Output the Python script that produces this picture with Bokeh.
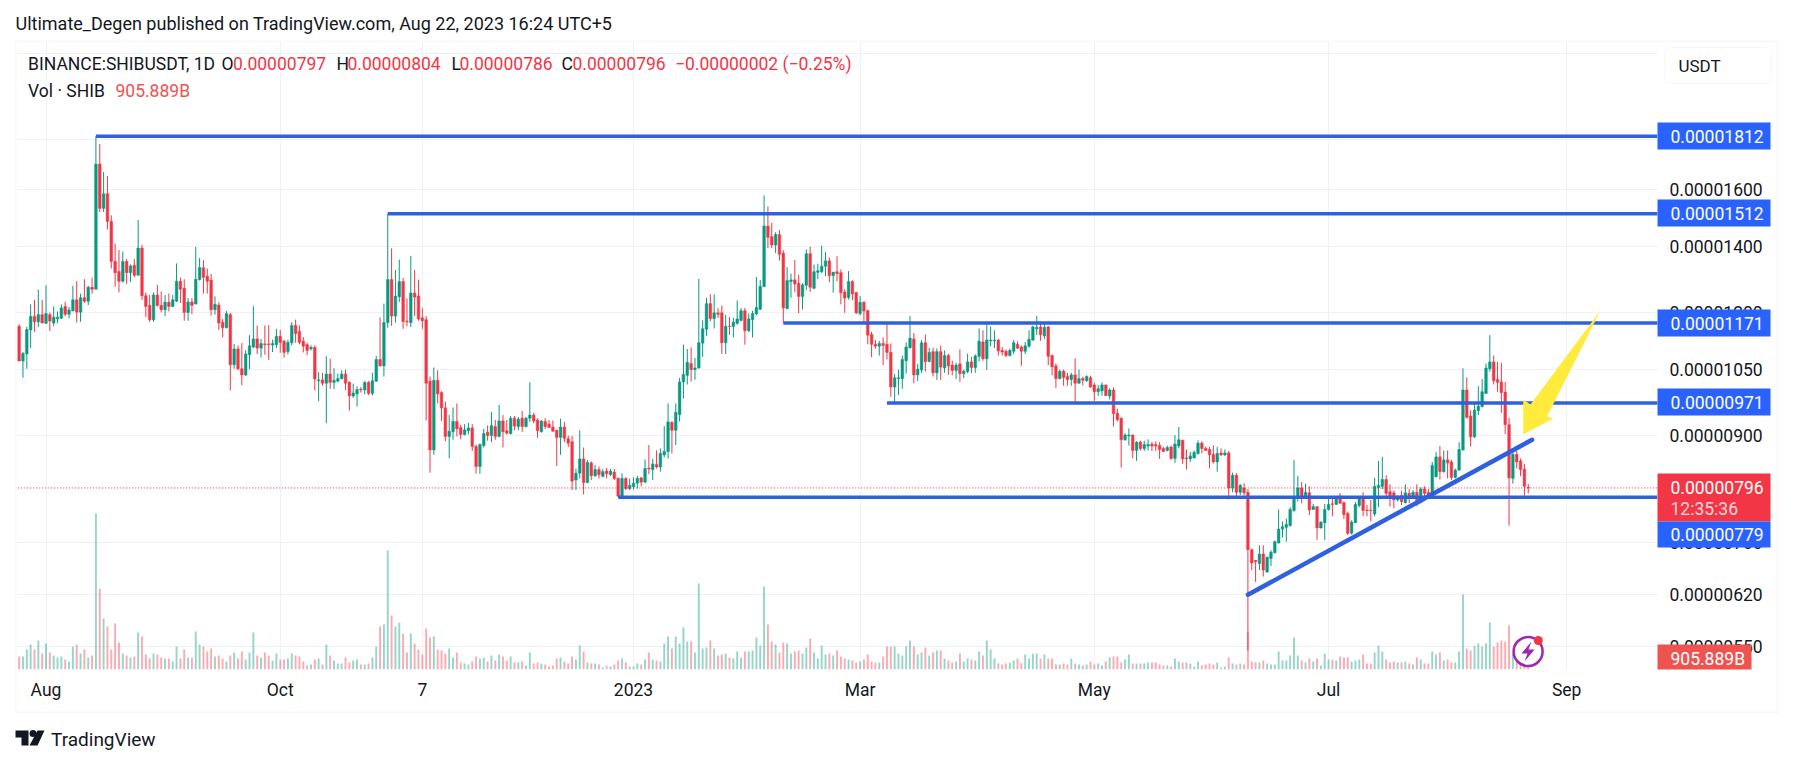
import math
from bokeh.embed import file_html
from bokeh.resources import INLINE
from bokeh.plotting import figure
from bokeh.models import (BoxAnnotation, Label, FixedTicker, Range1d, ColumnDataSource, LinearScale)

# Daily candles, prices in units of 0.00000001 USDT
opens = [
1162,1071,1089,1152,1189,1174,1194,1170,1194,1171,
1182,1184,1217,1195,1205,1236,1201,1242,1232,1273,
1267,1698,1531,1584,1485,1352,1321,1291,1352,1317,
1340,1309,1395,1248,1220,1180,1250,1220,1208,1229,
1217,1232,1291,1270,1200,1230,1224,1296,1332,1306,
1295,1208,1221,1173,1158,1194,1062,1102,1052,1037,
1087,1107,1128,1104,1115,1115,1112,1113,1135,1122,
1095,1118,1164,1148,1122,1113,1102,1106,1023,1025,
1017,1039,1019,1022,1028,1039,1019,987,992,1003,
1001,1019,993,1022,1075,1059,1172,1296,1190,1245,
1290,1176,1172,1256,1247,1185,1180,1022,870,1024,
995,960,898,908,930,917,902,910,916,877,
837,879,907,900,919,898,931,910,904,937,
919,937,919,937,944,933,908,930,924,918,
911,896,918,893,887,811,824,852,806,844,
819,831,818,828,821,826,814,781,814,795,
798,805,815,807,834,831,841,836,860,867,
928,911,945,1020,1036,1065,1050,1054,1117,1154,
1225,1183,1199,1199,1118,1162,1161,1170,1178,1205,
1150,1180,1196,1209,1275,1469,1433,1405,1440,1379,
1211,1290,1295,1285,1246,1279,1377,1270,1318,1320,
1337,1354,1308,1320,1317,1259,1243,1290,1257,1197,
1229,1205,1140,1114,1109,1116,1114,1093,1008,1028,
1028,1072,1105,1128,1037,1049,1118,1070,1095,1042,
1095,1054,1085,1061,1048,1064,1040,1045,1069,1055,
1083,1120,1077,1123,1123,1125,1098,1096,1085,1096,
1114,1107,1096,1109,1125,1155,1160,1136,1160,1085,
1059,1028,1046,1033,1026,1037,1017,1028,1023,1030,
1013,997,999,1013,987,1001,948,937,891,899,
901,869,886,873,878,882,881,879,873,869,
876,853,878,890,854,852,854,863,884,873,
871,861,846,864,860,864,796,820,788,796,
788,689,672,667,682,654,675,684,700,723,
726,729,755,778,796,778,787,757,762,725,
734,757,767,766,781,769,750,716,734,764,
777,756,756,749,797,799,812,789,787,774,
782,769,786,777,788,769,794,788,781,817,
856,827,850,846,816,830,870,1001,942,897,
954,963,993,1052,1069,1026,1020,996,923,814,
861,848,832,797]
highs = [
1167,1094,1160,1223,1236,1266,1236,1279,1200,1217,
1203,1223,1231,1216,1277,1291,1254,1297,1277,1302,
1812,1780,1667,1651,1506,1410,1389,1384,1360,1343,
1360,1490,1406,1257,1250,1257,1280,1260,1250,1254,
1250,1346,1302,1297,1241,1241,1399,1363,1356,1330,
1313,1246,1229,1182,1204,1199,1115,1111,1117,1099,
1138,1218,1164,1128,1164,1165,1126,1155,1152,1126,
1126,1173,1180,1164,1133,1118,1111,1111,1043,1042,
1083,1077,1053,1040,1048,1050,1022,1016,1010,1008,
1022,1022,1042,1084,1186,1225,1512,1394,1325,1358,
1301,1240,1370,1325,1296,1212,1190,1033,1055,1048,
998,974,944,961,970,923,924,927,924,881,
883,914,921,951,933,967,944,933,942,942,
940,953,940,1019,949,937,933,937,933,932,
912,936,929,900,899,833,911,875,850,847,
840,837,832,834,832,832,816,824,816,814,
816,819,817,851,880,852,869,873,920,970,
930,970,1030,1113,1102,1106,1079,1298,1178,1242,
1252,1252,1212,1220,1194,1187,1185,1234,1213,1213,
1197,1205,1304,1295,1578,1538,1480,1448,1455,1388,
1334,1314,1357,1311,1285,1391,1400,1342,1345,1403,
1382,1365,1319,1369,1327,1267,1322,1294,1260,1247,
1232,1208,1147,1125,1123,1132,1173,1116,1039,1050,
1085,1119,1190,1144,1064,1125,1140,1105,1105,1103,
1111,1098,1089,1072,1067,1101,1050,1090,1082,1088,
1156,1151,1168,1161,1151,1128,1107,1100,1103,1125,
1122,1111,1120,1151,1164,1190,1173,1173,1163,1088,
1065,1050,1050,1042,1042,1078,1050,1033,1036,1035,
1018,1013,1019,1013,1005,1007,958,939,905,915,
902,888,889,889,892,886,888,886,876,879,
879,901,918,891,871,866,869,890,888,877,
876,879,876,873,871,868,825,824,803,805,
794,691,672,696,696,678,688,704,757,736,
741,761,850,819,807,804,799,767,762,736,
767,778,778,780,787,772,753,738,770,780,
788,765,774,815,848,856,820,803,791,783,
791,803,794,792,803,797,799,794,846,866,
878,869,869,850,833,886,1053,1031,955,970,
1010,1027,1065,1138,1085,1069,1067,1020,938,873,
869,853,842,804]
lows = [
1071,1030,1052,1104,1147,1160,1170,1168,1149,1162,
1170,1182,1189,1184,1203,1172,1174,1227,1221,1254,
1267,1518,1518,1457,1330,1274,1258,1287,1283,1289,
1303,1309,1236,1187,1174,1174,1217,1200,1190,1203,
1215,1230,1227,1177,1177,1195,1223,1293,1254,1254,
1191,1194,1152,1132,1156,1000,1052,1048,1012,1034,
1051,1104,1089,1080,1087,1074,1094,1104,1092,1080,
1088,1111,1118,1114,1093,1086,1098,1000,975,1011,
926,1004,1003,1019,1026,1001,954,983,963,995,
991,989,988,1020,1057,1033,1158,1163,1172,1230,
1155,1162,1160,1190,1177,1155,932,825,860,970,
931,888,853,891,898,892,900,902,868,823,
823,875,889,886,891,896,875,902,902,911,
911,908,917,929,926,895,906,914,916,908,
838,860,886,876,792,792,814,784,806,811,
817,814,816,814,819,811,779,779,792,792,
793,795,799,805,822,811,833,827,855,853,
863,880,930,981,1014,1021,1025,1052,1082,1136,
1176,1156,1185,1089,1089,1139,1132,1166,1175,1113,
1146,1132,1192,1207,1273,1395,1395,1379,1355,1171,
1209,1242,1259,1198,1208,1265,1259,1267,1297,1316,
1306,1288,1257,1291,1223,1199,1237,1235,1196,1192,
1173,1114,1081,1103,1085,1061,1075,985,971,989,
1004,1040,1103,1017,1022,1042,1045,1068,1033,1025,
1025,1042,1037,1036,1027,1020,1029,1041,1041,1042,
1070,1072,1049,1109,1104,1085,1085,1081,1083,1089,
1102,1059,1089,1105,1123,1139,1123,1128,1061,1036,
1006,1026,1011,1011,1011,971,1016,1012,1020,1006,
976,987,988,987,979,919,930,835,889,879,
853,848,869,868,869,868,868,852,866,867,
850,844,873,842,831,846,853,860,863,868,
833,843,827,858,858,775,788,778,783,782,
544,657,639,657,647,653,663,683,699,709,
702,727,753,771,768,777,747,756,705,724,
705,755,745,765,767,740,713,714,733,761,
745,745,736,745,761,794,778,762,759,771,
765,768,768,776,763,768,781,777,779,816,
812,825,814,811,814,829,869,936,877,895,
944,961,992,1045,1014,997,949,903,729,804,
833,818,782,786]
closes = [
1071,1090,1153,1189,1174,1194,1171,1197,1176,1187,
1187,1213,1195,1207,1236,1201,1242,1232,1273,1267,
1698,1531,1584,1485,1352,1317,1291,1352,1317,1338,
1309,1395,1248,1217,1180,1250,1220,1208,1229,1217,
1236,1291,1267,1200,1230,1220,1297,1333,1303,1291,
1208,1223,1171,1158,1197,1062,1102,1052,1037,1089,
1110,1128,1104,1116,1113,1113,1116,1135,1119,1093,
1119,1164,1142,1119,1109,1098,1106,1027,1025,1017,
1039,1019,1024,1028,1039,1017,987,994,1002,1001,
1019,993,1023,1075,1059,1172,1296,1190,1247,1290,
1175,1174,1256,1244,1182,1177,1017,870,1024,992,
960,898,909,930,914,902,912,916,877,837,
881,904,900,921,898,931,908,905,937,920,
935,919,937,944,931,910,931,919,917,909,
896,918,894,884,809,824,852,806,845,819,
831,821,827,823,828,814,781,814,795,801,
805,814,807,833,832,842,836,863,867,929,
911,950,1020,1038,1068,1050,1054,1118,1155,1225,
1183,1199,1195,1118,1162,1161,1173,1182,1205,1150,
1182,1197,1214,1276,1469,1431,1405,1440,1375,1213,
1293,1295,1283,1246,1280,1377,1273,1320,1323,1337,
1354,1308,1319,1314,1257,1241,1290,1253,1199,1229,
1204,1138,1114,1109,1116,1111,1093,1008,1030,1030,
1075,1107,1130,1037,1051,1118,1070,1093,1042,1095,
1056,1085,1059,1048,1061,1040,1046,1069,1055,1084,
1122,1077,1125,1125,1125,1097,1094,1085,1098,1118,
1104,1096,1110,1127,1160,1159,1139,1159,1083,1057,
1028,1046,1031,1026,1037,1017,1028,1024,1033,1008,
997,1004,1013,988,1001,947,934,891,901,901,
869,886,873,881,881,878,878,871,867,875,
853,882,891,852,852,858,865,884,873,869,
860,846,863,860,864,796,820,788,801,787,
689,668,670,682,657,677,685,702,723,727,
731,757,778,796,778,788,756,762,725,735,
757,766,766,777,768,748,716,735,766,776,
755,755,755,799,801,812,786,781,774,780,
771,787,777,788,766,794,786,778,839,856,
827,850,844,816,830,871,1001,939,897,955,
964,997,1054,1069,1023,1019,995,923,815,861,
846,831,799,796]
# Volume in units of 100B SHIB
volumes = [
39,39,60,75,60,87,48,78,51,42,
36,39,30,24,69,75,48,60,36,42,
467,243,153,129,60,138,81,48,42,36,
39,111,99,45,33,48,45,36,33,33,
24,69,33,60,36,36,114,75,69,54,
63,39,42,33,24,42,51,33,54,30,
51,111,42,36,51,42,27,48,30,30,
33,48,42,39,24,12,15,30,33,15,
75,42,27,18,18,36,21,27,30,15,
15,18,36,69,129,135,357,162,129,141,
108,51,108,78,60,45,123,96,99,60,
57,48,63,36,51,21,18,15,24,39,
33,36,24,42,27,45,39,27,39,21,
21,24,12,51,18,21,18,15,9,12,
33,36,24,18,39,30,72,54,21,18,
18,15,6,12,9,15,27,33,21,9,
9,18,15,30,51,30,27,24,78,99,
63,99,78,126,84,84,51,258,63,66,
87,63,42,45,48,36,33,54,36,54,
54,57,96,72,249,135,84,75,51,81,
78,48,54,57,48,66,93,51,33,72,
45,48,42,57,39,33,30,27,21,24,
30,45,24,21,21,39,69,69,69,48,
42,69,87,69,45,51,66,42,51,57,
57,33,27,21,24,48,24,33,30,27,
54,42,87,60,33,18,15,18,20,27,
33,19,45,33,48,48,33,45,33,33,
15,15,18,15,33,18,15,12,15,24,
15,18,12,24,37,39,39,21,30,45,
18,18,18,18,21,21,21,15,12,12,
9,33,24,21,21,18,9,24,12,15,
18,15,21,6,9,36,18,15,18,15,
113,24,21,21,27,18,15,15,54,27,
27,42,96,42,27,21,33,24,33,12,
48,30,30,27,39,36,36,24,27,30,
45,18,18,51,72,54,30,21,24,21,
21,24,18,15,36,30,18,18,54,45,
51,27,30,21,21,54,225,63,57,72,
78,69,78,141,69,81,87,84,132,47,
32,17,9,9.06]

first_day = -7   # days from 1 Aug 2022 of the first candle
date_ticks = [0, 61, 98, 153, 212, 273, 334, 396]
date_labels = ["Aug", "Oct", "7", "2023", "Mar", "May", "Jul", "Sep"]
price_ticks = [2200, 1800, 1600, 1400, 1200, 1050, 900, 700, 620, 550]
price_labels = ["", "", "0.00001600", "0.00001400", "0.00001200", "0.00001050", "0.00000900",
                "0.00000700", "0.00000620", "0.00000550"]
levels = [1812, 1512, 1171, 971, 779]
level_start_days = [13, 89, 192, 219, 149]
last_price = 796
trend_days = [313, 387]
trend_prices = [620, 891]

GREEN, RED, BLUE, LINE_BLUE = "#089981", "#f23645", "#2962ff", "#2f60de"
FONT = "Roboto"
W, H = 1785, 757

days = [first_day + i for i in range(len(closes))]
up = [c >= o for o, c in zip(opens, closes)]
colors = [GREEN if u else RED for u in up]

# plot rectangle on the page
L, R, T, B = 16, 1657, 42, 669
X_PER_DAY, X_AUG = 3.84, 45.5
Y_1600, Y_PER_LOG = 189, 427.5
def dx(px): return (px - X_AUG) / X_PER_DAY
def dy(py): return 1600 * math.exp((Y_1600 - py) / Y_PER_LOG)

p = figure(width=W, height=H, output_backend="svg", toolbar_location=None,
           y_axis_type="log", y_axis_location="right",
           x_range=Range1d(dx(L), dx(R)), y_range=Range1d(dy(B), dy(T)),
           min_border_left=L, min_border_right=W - R,
           min_border_top=T, min_border_bottom=H - B,
           background_fill_color="white", border_fill_color="white")
p.outline_line_color = None
p.extra_y_ranges = {"vol": Range1d(0, (B - T) * 3.0)}
p.extra_y_scales = {"vol": LinearScale()}

# axes
ax = p.yaxis[0]
ax.ticker = FixedTicker(ticks=price_ticks)
ax.major_label_overrides = dict(zip(price_ticks, price_labels))
ax.axis_line_color = None
ax.major_tick_line_color = None
ax.minor_tick_line_color = None
ax.major_label_text_font = FONT
ax.major_label_text_font_size = "17.5px"
ax.major_label_text_color = "#131722"
ax.major_label_standoff = 6
xa = p.xaxis[0]
xa.ticker = FixedTicker(ticks=date_ticks)
xa.major_label_overrides = dict(zip(date_ticks, date_labels))
xa.axis_line_color = None
xa.major_tick_line_color = None
xa.minor_tick_line_color = None
xa.major_label_text_font = FONT
xa.major_label_text_font_size = "17.5px"
xa.major_label_text_color = "#131722"
xa.major_label_standoff = 4
p.xgrid.ticker = FixedTicker(ticks=date_ticks)
p.ygrid.ticker = FixedTicker(ticks=price_ticks)
p.xgrid.grid_line_color = "#f0f1f4"
p.ygrid.grid_line_color = "#f0f1f4"

# volume
p.vbar(x=days, top=volumes, bottom=0, width=0.5, y_range_name="vol",
       fill_color=colors, line_color=None, fill_alpha=0.42)
# candles
src = ColumnDataSource(dict(x=days, o=opens, h=highs, l=lows, c=closes, color=colors,
                            top=[max(a, b) for a, b in zip(opens, closes)],
                            bot=[min(a, b) for a, b in zip(opens, closes)]))
p.segment(x0="x", x1="x", y0="l", y1="h", line_color="color", line_width=1, source=src)
p.vbar(x="x", top="top", bottom="bot", width=0.68, fill_color="color", line_color="color",
       line_width=0.5, source=src)

# last price line
p.segment(x0=[days[0] - 1], x1=[dx(R)], y0=[last_price], y1=[last_price],
          line_color="#d6304a", line_width=1, line_dash="1 2")
# levels
for lv, start in zip(levels, level_start_days):
    p.segment(x0=[start], x1=[dx(R)], y0=[lv], y1=[lv], line_color=LINE_BLUE, line_width=3.5)
p.line(x=trend_days, y=trend_prices, line_color=LINE_BLUE, line_width=4.5, line_cap="round")

# yellow arrow
arrow_px = [(1600, 310), (1530, 404), (1522.7, 399), (1522.7, 434), (1553, 418), (1546.5, 416)]
p.patch(x=[dx(a) for a, _ in arrow_px], y=[dy(b) for _, b in arrow_px],
        fill_color="#ffeb3b", line_color=None)

# lightning badge
p.scatter(x=[dx(1527.6)], y=[dy(651)], size=29, marker="circle", fill_color="white", fill_alpha=0.75,
          line_color="#9c27b0", line_width=2.5)
bolt_px = [(1531, 641), (1521, 653), (1527, 653), (1524, 661), (1534, 649), (1528, 649)]
p.patch(x=[dx(a) for a, _ in bolt_px], y=[dy(b) for _, b in bolt_px], fill_color="#9c27b0", line_color=None)
p.scatter(x=[dx(1537.8)], y=[dy(640)], size=9, marker="circle", fill_color=RED, line_color=None)

# transparent sheet over the chart, for the page furniture that lies outside the plot frame;
# its data coordinates are page pixels
o = figure(width=W, height=H, output_backend="svg", toolbar_location=None,
           x_range=Range1d(0, W), y_range=Range1d(H, 0),
           min_border_left=0, min_border_right=0, min_border_top=0, min_border_bottom=0,
           background_fill_color=None, border_fill_color=None, margin=(-H, 0, 0, 0))
o.outline_line_color = None
o.axis.visible = False
o.grid.visible = False

def box(l, r, t, b, fill, line=None, radius=0, alpha=1.0, lw=1):
    o.add_layout(BoxAnnotation(left=l, right=r, top=t, bottom=b, fill_color=fill, fill_alpha=alpha,
                               line_color=line, line_width=lw, border_radius=radius, editable=False))

def label(text, x, y, color="#131722", size=17.5, align="left", alpha=1.0):
    o.add_layout(Label(x=x, y=y, text=text, text_font=FONT, text_font_size=f"{size}px", text_color=color,
                       text_alpha=alpha, text_align=align, text_baseline="middle"))

# frame
box(15, 1777, 41, 712, None, line="#ececee", lw=2, alpha=0)
# header
label("Ultimate_Degen published on TradingView.com, Aug 22, 2023 16:24 UTC+5", 15, 23, size=18)
label("BINANCE:SHIBUSDT, 1D", 27.6, 63)
for letter, lx, val, vx in [("O", 221, "0.00000797", 232.5), ("H", 336, "0.00000804", 347),
                            ("L", 451, "0.00000786", 459), ("C", 561, "0.00000796", 572)]:
    label(letter, lx, 63)
    label(val, vx, 63, color=RED)
label("\u22120.00000002 (\u22120.25%)", 674.5, 63, color=RED)
label("Vol \u00b7 SHIB", 27.6, 90)
label("905.889B", 115, 90, color="#ef5350")

# currency button
box(1664, 1771, 47, 83, "white", line="#e0e3eb", radius=6, lw=1)
label("USDT", 1678, 65, size=17)

# price tags
for txt, t, b in [("0.00001812", 122, 149), ("0.00001512", 199, 226), ("0.00001171", 309, 336),
                  ("0.00000971", 388, 415)]:
    box(1657, 1770, t, b, BLUE)
    label(txt, 1670, (t + b) / 2, color="white")
box(1657, 1770, 473, 521, RED)
label("0.00000796", 1670, 487, color="white")
label("12:35:36", 1670, 508, color="white", alpha=0.8)
box(1657, 1770, 521, 547, BLUE)
label("0.00000779", 1670, 534, color="white")
box(1657, 1751, 644, 669, "#ef5350")
label("905.889B", 1670, 658, color="white")

# footer logo
o.patch(x=[15, 28, 28, 21, 21, 15], y=[730, 730, 745, 745, 737, 737], fill_color="#131722", line_color=None)
o.scatter(x=[32.5], y=[733], size=7, marker="circle", fill_color="#131722", line_color=None)
o.patch(x=[37, 44, 37, 29], y=[730, 730, 745, 745], fill_color="#131722", line_color=None)
label("TradingView", 50.5, 739, size=19)

open("out.html", "w").write(file_html([p, o], INLINE))
